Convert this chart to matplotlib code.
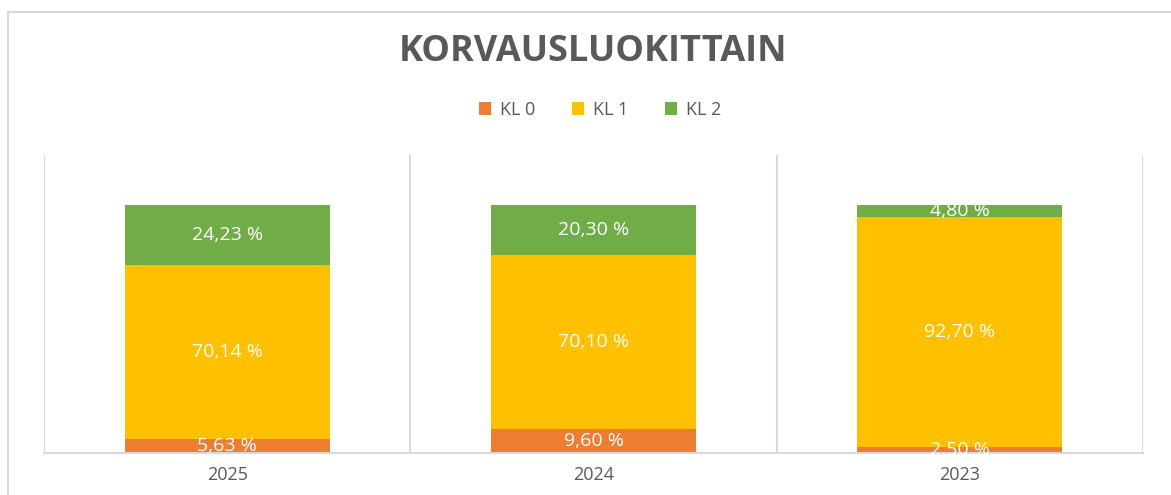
import numpy as np
import matplotlib.pyplot as plt
from matplotlib.patches import Rectangle

# data
years = ["2025", "2024", "2023"]
kl0 = [5.63, 9.60, 2.50]
kl1 = [70.14, 70.10, 92.70]
kl2 = [24.23, 20.30, 4.80]
series_names = ["KL 0", "KL 1", "KL 2"]
colors = ["#ED7D31", "#FFC000", "#70AD47"]

W, H = 1171, 495
plt.rcParams["font.family"] = ["Open Sans", "DejaVu Sans"]

fig = plt.figure(figsize=(W / 100, H / 100), dpi=100)
ax = fig.add_axes([44 / W, 1 - 453 / H, (1143 - 44) / W, (453 - 155) / H])

# outer chart border (right/bottom edges cropped in the reference)
fig.patches.append(Rectangle((8 / W, -0.1), 1.2, 1 - 12 / H + 0.1,
                             transform=fig.transFigure, fill=False,
                             edgecolor="#D9D9D9", linewidth=1.5))

x = np.arange(len(years))
bottom = np.zeros(len(years))
for vals, name, col in zip([kl0, kl1, kl2], series_names, colors):
    vals = np.array(vals)
    ax.bar(x, vals, width=0.56, bottom=bottom, color=col, label=name, zorder=2)
    for xi, b, v in zip(x, bottom, vals):
        ax.text(xi, b + v / 2, f"{v:.2f} %".replace(".", ","), ha="center",
                va="center", color="white", fontsize=14, zorder=3)
    bottom += vals

ax.set_xlim(-0.5, 2.5)
ax.set_ylim(0, 120)
ax.set_yticks([])
ax.set_xticks(x)
ax.set_xticklabels(years, fontsize=13, color="#595959")
ax.set_xticks([-0.5, 0.5, 1.5, 2.5], minor=True)
ax.tick_params(axis="x", which="both", length=0, pad=9)
ax.grid(True, axis="x", which="minor", color="#D9D9D9", linewidth=1.5, zorder=0)
ax.grid(False, axis="x", which="major")
for s in ["top", "right", "left"]:
    ax.spines[s].set_visible(False)
ax.spines["bottom"].set_color("#D9D9D9")
ax.spines["bottom"].set_linewidth(1.5)

fig.text(593 / W, 1 - 52 / H, "KORVAUSLUOKITTAIN", ha="center", va="center",
         fontsize=26, fontweight="bold", color="#595959")

handles, labels = ax.get_legend_handles_labels()
fig.legend(handles, labels, loc="center", bbox_to_anchor=(600 / W, 1 - 110 / H),
           ncol=3, frameon=False, fontsize=13, labelcolor="#595959",
           handlelength=0.7, handleheight=0.7, handletextpad=0.5,
           columnspacing=2.0)

fig.savefig("out.png", dpi=100)
